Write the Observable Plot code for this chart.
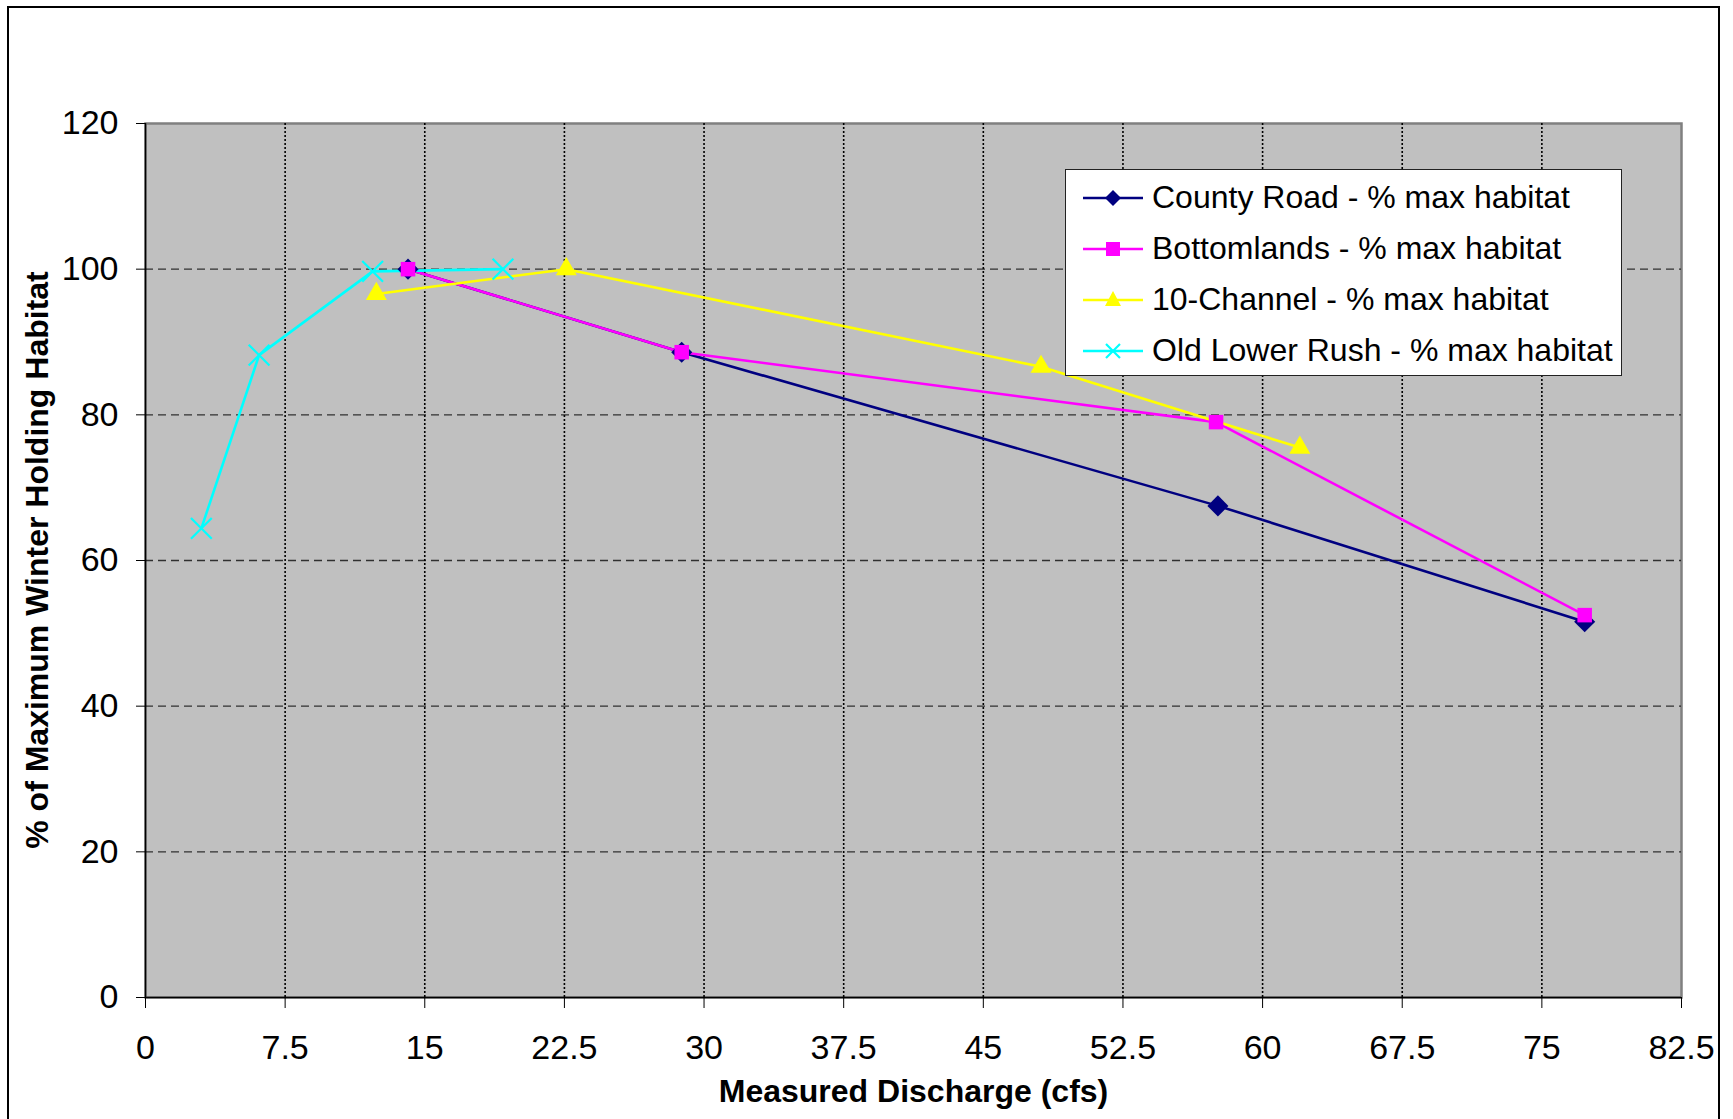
<!DOCTYPE html>
<html>
<head>
<meta charset="utf-8">
<script src="https://cdn.jsdelivr.net/npm/d3@7"></script>
<script src="https://cdn.jsdelivr.net/npm/@observablehq/plot@0.6"></script>
<style>
  html, body { margin: 0; padding: 0; background: #fff; }
  #wrap { position: relative; width: 1733px; height: 1119px; overflow: hidden; font-family: "Liberation Sans", Arial, sans-serif; }
  #frame { position: absolute; left: 7px; top: 6px; width: 1713px; height: 1200px; border: 2px solid #000; border-bottom: none; box-sizing: border-box; pointer-events: none; }
  #chart { position: absolute; left: 0; top: 0; }
  #ytitle { position: absolute; left: 37px; top: 560px; transform: translate(-50%, -50%) rotate(-90deg); font-size: 32px; font-weight: bold; white-space: nowrap; color: #000; }
  #legend { position: absolute; left: 1065px; top: 169px; width: 557px; height: 207px; box-sizing: border-box; background: #fff; border: 1.5px solid #222; padding-top: 2px; }
  .row { display: flex; align-items: center; height: 51px; }
  .row svg { margin-left: 17px; margin-right: 9px; }
  .row span { font-size: 32px; color: #000; white-space: nowrap; }
</style>
</head>
<body>
<div id="wrap">
  <div id="frame"></div>
  <div id="chart"></div>
  <div id="ytitle">% of Maximum Winter Holding Habitat</div>
  <div id="legend"></div>
</div>
<script>
// Series names, colours and marker shapes
const seriesNames = [
  "County Road - % max habitat",
  "Bottomlands - % max habitat",
  "10-Channel - % max habitat",
  "Old Lower Rush - % max habitat"
];
const seriesColors = ["#000080", "#ff00ff", "#ffff00", "#00ffff"];
const seriesSymbols = ["diamond2", "square", "triangle", "times"];
const symbolRadius = {diamond2: 9.5, square: 8.2, triangle: 7.8, times: 9.5};

// Measured discharge (cfs) and % of maximum winter holding habitat
const countyX  = [14.1, 28.8, 57.6, 77.3];
const countyY  = [100, 88.6, 67.5, 51.6];
const bottomX  = [14.1, 28.8, 57.5, 77.3];
const bottomY  = [100, 88.6, 79.0, 52.5];
const channelX = [12.4, 22.6, 48.1, 62.0];
const channelY = [96.6, 100, 86.6, 75.5];
const rushX    = [3.0, 6.1, 12.2, 19.2];
const rushY    = [64.4, 88.2, 99.7, 100];

// Axis ticks
const xTicks = [0, 7.5, 15, 22.5, 30, 37.5, 45, 52.5, 60, 67.5, 75, 82.5];
const yTicks = [0, 20, 40, 60, 80, 100, 120];

const xsList = [countyX, bottomX, channelX, rushX];
const ysList = [countyY, bottomY, channelY, rushY];
const data = seriesNames.flatMap((s, i) =>
  xsList[i].map((x, j) => ({series: s, x, y: ysList[i][j]}))
);
const bySeries = s => data.filter(d => d.series === s);

// Markers are drawn after all lines, series by series
const dotMarks = seriesNames.map((s, i) => {
  const sym = seriesSymbols[i];
  const stroked = sym === "times";
  return Plot.dot(bySeries(s), {
    x: "x", y: "y",
    symbol: () => sym,
    r: symbolRadius[sym],
    fill: stroked ? "none" : seriesColors[i],
    stroke: stroked ? seriesColors[i] : "none",
    strokeWidth: stroked ? 2.2 : 0
  });
});

const chart = Plot.plot({
  width: 1733,
  height: 1119,
  marginLeft: 145,
  marginRight: 52,
  marginTop: 123,
  marginBottom: 122,
  style: {fontFamily: "'Liberation Sans', Arial, sans-serif", background: "transparent", color: "#000"},
  x: {domain: [0, 82.5]},
  y: {domain: [0, 120]},
  symbol: {type: "identity"},
  marks: [
    Plot.frame({fill: "#c0c0c0", stroke: "#808080", strokeWidth: 2.5}),
    Plot.gridY(yTicks.filter(t => t > 0 && t < 120), {stroke: "#000", strokeOpacity: 0.75, strokeWidth: 1.3, strokeDasharray: "8,5"}),
    Plot.gridX(xTicks.filter(t => t > 0 && t < 82.5), {stroke: "#000", strokeOpacity: 1, strokeWidth: 1.6, strokeDasharray: "2,2"}),
    Plot.ruleX([0], {stroke: "#000", strokeWidth: 1.5}),
    Plot.ruleY([0], {stroke: "#000", strokeWidth: 1.5}),
    Plot.axisY(yTicks, {tickSize: 9, tickPadding: 18, fontSize: 34, tickFormat: d => String(d), label: null, stroke: "#000"}),
    Plot.axisX(xTicks, {tickSize: 11, tickPadding: 26, fontSize: 34, tickFormat: d => String(d), label: null, stroke: "#000"}),
    ...seriesNames.map((s, i) =>
      Plot.line(bySeries(s), {x: "x", y: "y", stroke: seriesColors[i], strokeWidth: 2.6})
    ),
    ...dotMarks,
    Plot.text(["Measured Discharge (cfs)"], {frameAnchor: "bottom", dy: 94, fontSize: 32, fontWeight: "bold", lineAnchor: "middle"})
  ]
});
document.getElementById("chart").append(chart);

// Legend entries: line sample with its marker, then the series name
const legend = document.getElementById("legend");
const symbolPath = (sym, color) => {
  switch (sym) {
    case "diamond2": return `<path d="M30,14 L38,22 L30,30 L22,22 Z" fill="${color}"/>`;
    case "square": return `<rect x="23" y="15" width="14" height="14" fill="${color}"/>`;
    case "triangle": return `<path d="M30,13 L38,28 L22,28 Z" fill="${color}"/>`;
    default: return `<path d="M23,15 L37,29 M37,15 L23,29" stroke="${color}" stroke-width="2.2"/>`;
  }
};
seriesNames.forEach((s, i) => {
  const row = document.createElement("div");
  row.className = "row";
  row.innerHTML = `<svg width="60" height="44" viewBox="0 0 60 44">
      <line x1="0" y1="22" x2="60" y2="22" stroke="${seriesColors[i]}" stroke-width="2.6"/>
      ${symbolPath(seriesSymbols[i], seriesColors[i])}
    </svg><span>${s}</span>`;
  legend.append(row);
});
</script>
</body>
</html>
